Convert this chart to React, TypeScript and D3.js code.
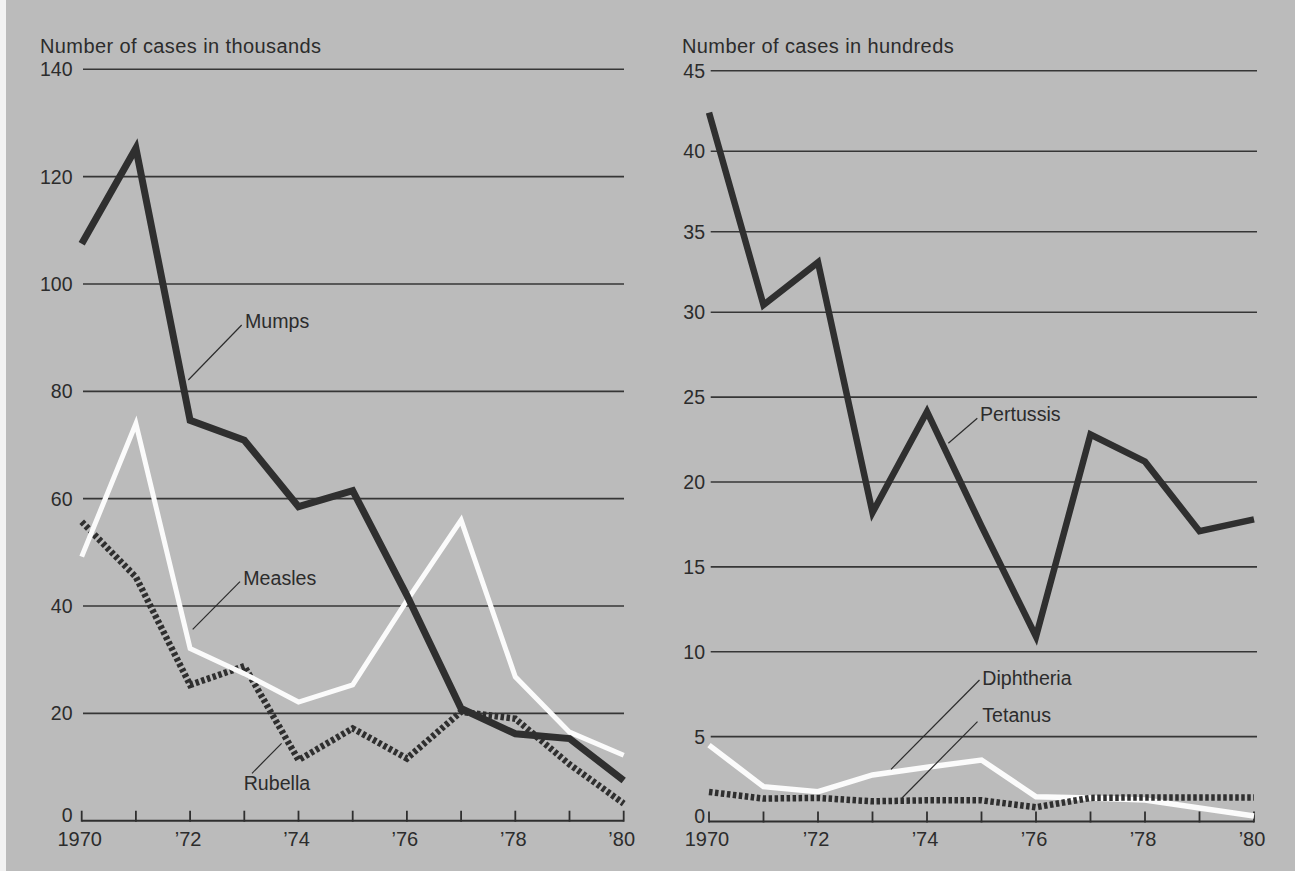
import React from "react";
import * as d3 from "d3";

// ---------- DATA ----------
const years = [1970, 1971, 1972, 1973, 1974, 1975, 1976, 1977, 1978, 1979, 1980];
const yearLabels = ["1970", "\u201972", "\u201974", "\u201976", "\u201978", "\u201980"];
const labelYears = [1970, 1972, 1974, 1976, 1978, 1980];

// Left panel: number of cases in thousands
const mumps = [107.5, 125.3, 74.6, 70.9, 58.5, 61.5, 42, 20.9, 16.2, 15.3, 7.5];
const measles = [49.2, 74.0, 32.1, 27.4, 22.1, 25.3, 41, 56.0, 26.8, 16.5, 12.2];
const rubella = [55.7, 45.4, 25.3, 28.8, 11.3, 17.2, 11.6, 20.3, 19.0, 10.5, 3.2];
const leftTicks = [0, 20, 40, 60, 80, 100, 120, 140];

// Right panel: number of cases in hundreds
const pertussis = [42.4, 30.45, 33.1, 18.2, 24.15, 17.4, 10.9, 22.8, 21.2, 17.1, 17.8];
const diphtheria = [4.5, 2.05, 1.76, 2.74, 3.2, 3.62, 1.46, 1.38, 1.27, 0.8, 0.32];
const tetanus = [1.74, 1.35, 1.39, 1.19, 1.25, 1.25, 0.84, 1.39, 1.42, 1.42, 1.42];
const rightTicks = [0, 5, 10, 15, 20, 25, 30, 35, 40, 45];

// ---------- STYLE ----------
const BG = "#bbbbbb";
const INK = "#2c2c2c";
const DARK = "#2f2f2f";
const WHITE = "#fbfbfb";
const FONT = "'Liberation Sans', Arial, Helvetica, sans-serif";

type Panel = {
  title: string;
  titleX: number;
  x0: number;
  x1: number;
  gridEnd: number;
  yScale: d3.ScaleLinear<number, number>;
  ticks: number[];
  labelRight: number;
  gridStart: number;
};

const leftY = d3.scaleLinear().domain([0, 140]).range([820.7, 69.3]);
const rightY = d3.scaleLinear().domain([0, 30, 45]).range([821.5, 312.3, 70.7]);

const leftPanel: Panel = {
  title: "Number of cases in thousands",
  titleX: 40,
  x0: 81.7,
  x1: 623.7,
  gridEnd: 624,
  yScale: leftY,
  ticks: leftTicks,
  labelRight: 72.5,
  gridStart: 83,
};
const rightPanel: Panel = {
  title: "Number of cases in hundreds",
  titleX: 682,
  x0: 709,
  x1: 1254,
  gridEnd: 1257,
  yScale: rightY,
  ticks: rightTicks,
  labelRight: 705,
  gridStart: 710.7,
};

function xScaleFor(p: Panel) {
  return d3.scaleLinear().domain([1970, 1980]).range([p.x0, p.x1]);
}

function Axes({ p }: { p: Panel }) {
  const x = xScaleFor(p);
  const y = p.yScale;
  const y0 = y(0);
  return (
    <g>
      <text x={p.titleX} y={52.7} fontSize={20} fill={INK} fontFamily={FONT} letterSpacing={0.4}>
        {p.title}
      </text>
      {p.ticks
        .filter((t) => t > 0)
        .map((t) => (
          <g key={t}>
            <line x1={p.gridStart} x2={p.gridEnd} y1={y(t)} y2={y(t)} stroke="#363636" strokeWidth={1.6} />
            <text
              x={p.labelRight}
              y={y(t)}
              dy="0.36em"
              textAnchor="end"
              fontSize={19.5}
              fill={INK}
              fontFamily={FONT}
            >
              {t}
            </text>
          </g>
        ))}
      <text x={p.labelRight} y={y0 + 1} textAnchor="end" fontSize={19.5} fill={INK} fontFamily={FONT}>
        0
      </text>
      <line x1={p.x0} x2={p.x1} y1={y0} y2={y0} stroke={DARK} strokeWidth={2} />
      {years.map((yr) => (
        <line key={yr} x1={x(yr)} x2={x(yr)} y1={y0 + 1} y2={y0 - 10} stroke={DARK} strokeWidth={1.8} />
      ))}
      {labelYears.map((yr, i) => (
        <text
          key={yr}
          x={x(yr) - 2}
          y={846}
          textAnchor="middle"
          fontSize={20}
          fill={INK}
          fontFamily={FONT}
        >
          {yearLabels[i]}
        </text>
      ))}
    </g>
  );
}

function Series({
  p,
  values,
  color,
  width,
  dash,
}: {
  p: Panel;
  values: number[];
  color: string;
  width: number;
  dash?: string;
}) {
  const x = xScaleFor(p);
  const line = d3
    .line<number>()
    .x((_, i) => x(years[i]))
    .y((v) => p.yScale(v));
  return (
    <path
      d={line(values) || ""}
      fill="none"
      stroke={color}
      strokeWidth={width}
      strokeDasharray={dash}
      strokeLinejoin="miter"
      strokeMiterlimit={10}
    />
  );
}

function Label({
  text,
  x,
  y,
  lx1,
  ly1,
  lx2,
  ly2,
}: {
  text: string;
  x: number;
  y: number;
  lx1: number;
  ly1: number;
  lx2: number;
  ly2: number;
}) {
  return (
    <g>
      <line x1={lx1} y1={ly1} x2={lx2} y2={ly2} stroke={INK} strokeWidth={1.2} />
      <text x={x} y={y} fontSize={19.6} fill={INK} fontFamily={FONT}>
        {text}
      </text>
    </g>
  );
}

export default function App() {
  return (
    <svg
      width={1295}
      height={871}
      style={{ position: "absolute", left: 0, top: 0, display: "block" }}
    >
      <rect x={0} y={0} width={1295} height={871} fill="#f2f2f2" />
      <rect x={6} y={0} width={1289} height={871} fill={BG} />

      <Axes p={leftPanel} />
      <Axes p={rightPanel} />

      {/* Left panel lines */}
      <Series p={leftPanel} values={rubella} color={DARK} width={6.5} dash="3.5,2.5" />
      <Series p={leftPanel} values={measles} color={WHITE} width={5} />
      <Series p={leftPanel} values={mumps} color={DARK} width={7} />

      {/* Right panel lines */}
      <Series p={rightPanel} values={diphtheria} color={WHITE} width={5.5} />
      <Series p={rightPanel} values={tetanus} color={DARK} width={6.5} dash="3.5,2.5" />
      <Series p={rightPanel} values={pertussis} color={DARK} width={6.5} />

      {/* Series labels */}
      <Label text="Mumps" x={245} y={328} lx1={241.7} ly1={325} lx2={188.3} ly2={380} />
      <Label text="Measles" x={243.3} y={585} lx1={240} ly1={581.7} lx2={192.7} ly2={629.3} />
      <Label text="Rubella" x={243.7} y={790} lx1={281.6} ly1={743.3} lx2={252} ly2={773.3} />
      <Label text="Pertussis" x={980} y={420.7} lx1={977.3} ly1={418.3} lx2={948.3} ly2={443.3} />
      <Label text="Diphtheria" x={982.3} y={685} lx1={979.5} ly1={680} lx2={891} ly2={769.3} />
      <Label text="Tetanus" x={982.3} y={721.7} lx1={977.5} ly1={721.7} lx2={902} ly2={798} />
    </svg>
  );
}
